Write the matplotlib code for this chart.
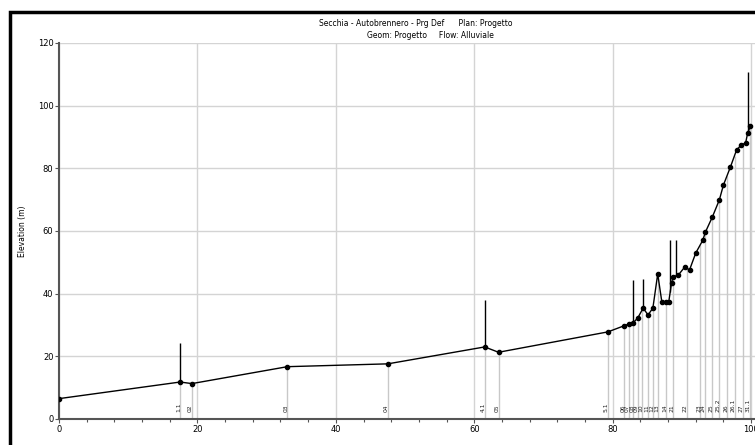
import numpy as np
import matplotlib.pyplot as plt
from matplotlib.patches import Rectangle
from matplotlib.ticker import MultipleLocator

# Main channel stations (km) and bed elevation (m)
stations = [0.0, 17.5, 19.2, 33.0, 47.5, 61.5, 63.5, 79.3, 81.7, 82.3, 82.9, 83.6,
            84.4, 85.1, 85.8, 86.5, 87.1, 87.7, 88.1, 88.5, 88.7, 89.5, 90.4, 91.1,
            92.0, 93.0, 93.4, 94.4, 95.4, 96.0, 97.0, 97.9, 98.6, 99.2, 99.5, 99.9]
bed = [6.5, 11.8, 11.3, 16.7, 17.6, 23.0, 21.3, 27.8, 29.8, 30.3, 30.6, 32.2,
       35.4, 33.2, 35.4, 46.3, 37.3, 37.3, 37.5, 43.4, 45.3, 46.0, 48.5, 47.6,
       53.0, 57.0, 59.7, 64.5, 69.9, 74.7, 80.4, 85.9, 87.5, 88.1, 91.3, 93.5]

# cross-section labels
xs_pos = [17.5, 19.2, 33.0, 47.5, 61.5, 63.5, 79.3, 81.7, 82.3, 83.0, 83.6, 84.3,
          85.1, 85.8, 86.5, 87.7, 88.7, 90.7, 92.6, 93.3, 94.4, 95.4, 96.5, 97.6,
          98.8, 99.8]
xs_lab = ['1.1', '02', '03', '04', '4.1', '05', '5.1', '06', '07', '08', '09', '10',
          '11', '12', '13', '14', '21', '22', '23', '24', '25', '25.2', '26', '26.1',
          '27', '31.1']

# structures (bridges) : station, top elevation
br_x = [17.5, 61.5, 82.9, 84.4, 88.3, 89.2, 99.5]
br_top = [24.3, 38.0, 44.4, 44.7, 57.0, 57.0, 110.8]

fig = plt.figure(figsize=(7.55, 4.45), dpi=100)
W, H = 755, 445

# outer frame
fig.patches.append(Rectangle((10 / W, -0.1), 1.2, (H - 12) / H + 0.1,
                             transform=fig.transFigure, fill=False,
                             edgecolor='black', linewidth=2.5))

ax = fig.add_axes([59 / W, (H - 419) / H, (765 - 59) / W, (419 - 43) / H])
ax.set_xlim(0, 102)
ax.set_ylim(0, 120)

ax.xaxis.set_major_locator(MultipleLocator(20))
ax.xaxis.set_minor_locator(MultipleLocator(4))
ax.yaxis.set_major_locator(MultipleLocator(20))
ax.grid(True, which='major', color='#d4d4d4', linewidth=1.0)
ax.set_axisbelow(True)

for s in ['top', 'right']:
    ax.spines[s].set_visible(False)
for s in ['left', 'bottom']:
    ax.spines[s].set_color('#555555')
    ax.spines[s].set_linewidth(1.5)

ax.tick_params(axis='both', which='major', labelsize=6, length=3, width=0.8,
               color='#555555', pad=1)
ax.tick_params(axis='x', which='minor', length=2, width=0.8, color='#555555')
ax.set_xticks([0, 20, 40, 60, 80, 100])
ax.set_xticklabels(['0', '20', '40', '60', '80', '100'])

# cross section lines from bottom to bed
bed_at = np.interp(xs_pos, stations, bed)
ax.vlines(xs_pos, 0, bed_at, color='#c8c8c8', linewidth=1.0, zorder=1)
for x, lab in zip(xs_pos, xs_lab):
    ax.text(x - 0.2, 2.3, lab, rotation=90, fontsize=4.3, ha='center', va='bottom',
            color='#222222', zorder=2)

# bridges
br_base = np.interp(br_x, stations, bed)
ax.vlines(br_x, br_base, br_top, color='black', linewidth=1.0, zorder=3)

# profile
ax.plot(stations, bed, '-', color='black', linewidth=1.0, marker='o',
        markersize=3, zorder=4)

ax.set_ylabel('Elevation (m)', fontsize=5.5, labelpad=8)
ax.set_xlabel('Main Channel Distance (km)', fontsize=5.5, labelpad=8)

fig.text(416 / W, 1 - 24 / H, 'Secchia - Autobrennero - Prg Def      Plan: Progetto',
         ha='center', va='center', fontsize=5.5)
fig.text(430 / W, 1 - 35 / H, 'Geom: Progetto     Flow: Alluviale',
         ha='center', va='center', fontsize=5.5)

fig.savefig('out.png', dpi=100)
